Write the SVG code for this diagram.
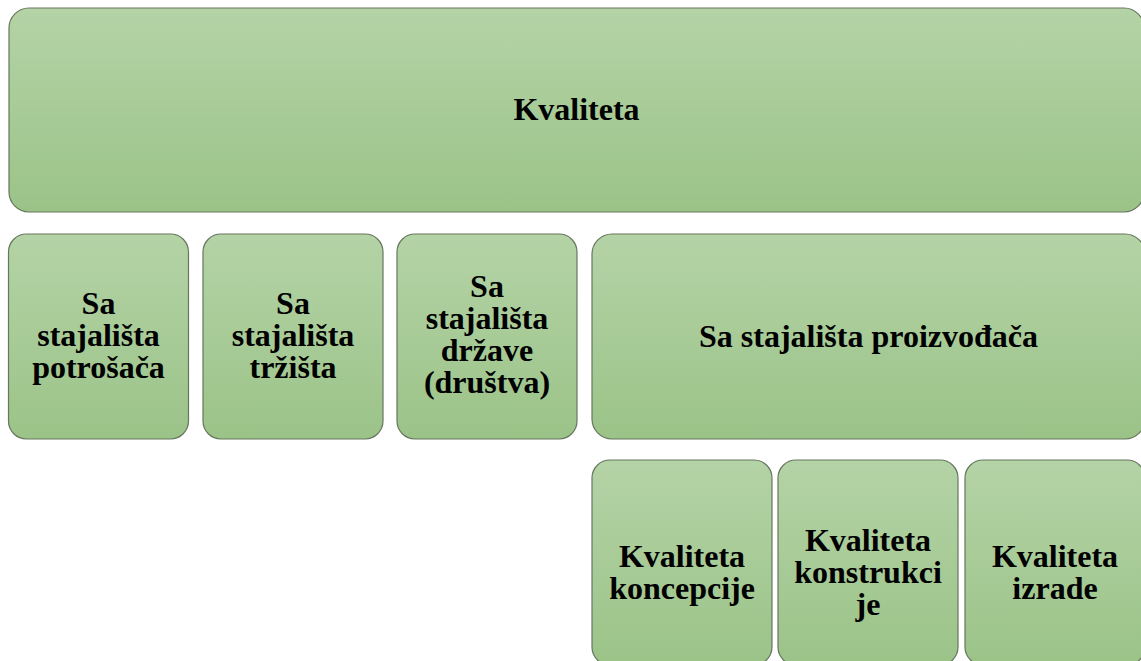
<svg xmlns="http://www.w3.org/2000/svg" width="1141" height="661" viewBox="0 0 1141 661">
<defs>
<linearGradient id="g" x1="0" y1="0" x2="0" y2="1">
<stop offset="0" stop-color="#b4d3a6"/>
<stop offset="1" stop-color="#9bc388"/>
</linearGradient>
</defs>
<style>
.b{fill:url(#g);stroke:#66765f;stroke-width:1.2}
.t{font-family:"Liberation Serif","Times New Roman",serif;font-weight:bold;font-size:32px;fill:#000;text-anchor:middle}
</style>
<rect width="1141" height="661" fill="#fff"/>
<g id="connectors"></g>
<g id="n-kvaliteta">
<rect class="b" x="9" y="8" width="1135" height="204" rx="20" ry="20"/>
<text class="t" x="576.5" y="120">Kvaliteta</text>
</g>
<g id="n-potrosaca">
<rect class="b" x="8.5" y="234" width="180" height="205" rx="18" ry="18"/>
<text class="t" x="98.5" y="314">Sa</text>
<text class="t" x="98.5" y="346">stajališta</text>
<text class="t" x="98.5" y="378">potrošača</text>
</g>
<g id="n-trzista">
<rect class="b" x="203" y="234" width="180" height="205" rx="18" ry="18"/>
<text class="t" x="293" y="314">Sa</text>
<text class="t" x="293" y="346">stajališta</text>
<text class="t" x="293" y="378">tržišta</text>
</g>
<g id="n-drzave">
<rect class="b" x="397" y="234" width="180" height="205" rx="18" ry="18"/>
<text class="t" x="487" y="297">Sa</text>
<text class="t" x="487" y="329">stajališta</text>
<text class="t" x="487" y="361">države</text>
<text class="t" x="487" y="393">(društva)</text>
</g>
<g id="n-proizvodaca">
<rect class="b" x="592" y="234" width="553" height="205" rx="20" ry="20"/>
<text class="t" x="868.5" y="347">Sa stajališta proizvođača</text>
</g>
<g id="n-koncepcije">
<rect class="b" x="592" y="460" width="180" height="205" rx="18" ry="18"/>
<text class="t" x="682" y="567">Kvaliteta</text>
<text class="t" x="682" y="599">koncepcije</text>
</g>
<g id="n-konstrukcije">
<rect class="b" x="778" y="460" width="180" height="205" rx="18" ry="18"/>
<text class="t" x="868" y="551">Kvaliteta</text>
<text class="t" x="868" y="583">konstrukci</text>
<text class="t" x="868" y="615">je</text>
</g>
<g id="n-izrade">
<rect class="b" x="965" y="460" width="180" height="205" rx="18" ry="18"/>
<text class="t" x="1055" y="567">Kvaliteta</text>
<text class="t" x="1055" y="599">izrade</text>
</g>
</svg>
